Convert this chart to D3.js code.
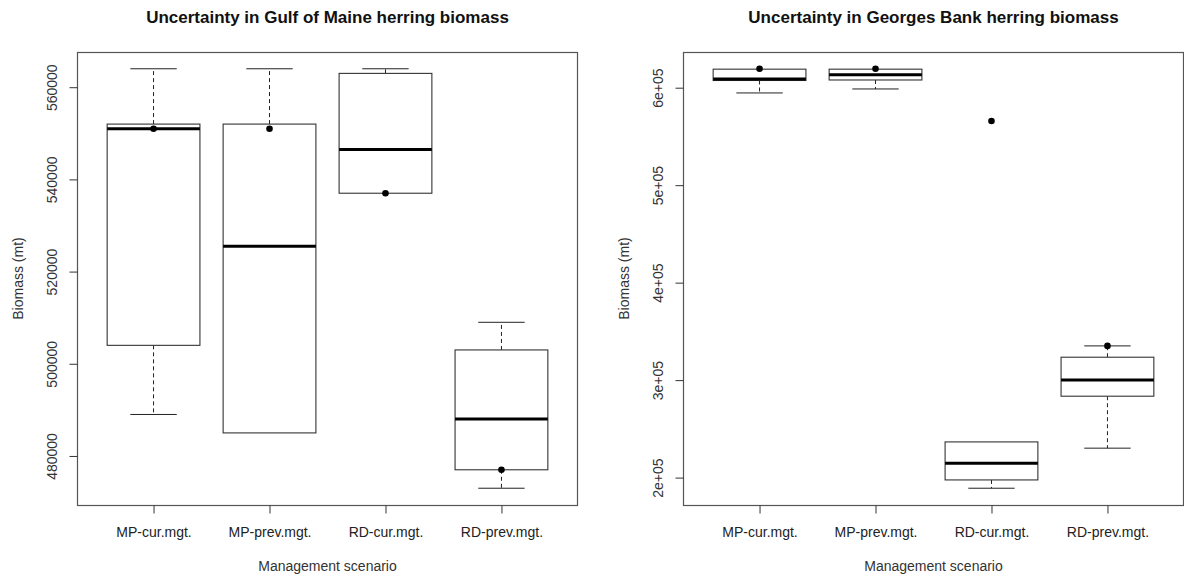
<!DOCTYPE html>
<html>
<head>
<meta charset="utf-8">
<script src="https://cdn.jsdelivr.net/npm/d3@7"></script>
<style>
  html, body { margin: 0; padding: 0; background: #fff; }
  svg { display: block; font-family: "Liberation Sans", Arial, sans-serif; }
</style>
</head>
<body>
<svg id="chart" width="1184" height="581"></svg>
<script>
// Management scenarios shown on both panels
const scenarios = ["MP-cur.mgt.", "MP-prev.mgt.", "RD-cur.mgt.", "RD-prev.mgt."];

// Gulf of Maine herring biomass (mt): box-plot summaries per scenario
const gomWhiskerLow  = [489000, 485000, 537000, 473000];
const gomQ1          = [504000, 485000, 537000, 477000];
const gomMedian      = [551000, 525500, 546500, 488000];
const gomQ3          = [552000, 552000, 563000, 503000];
const gomWhiskerHigh = [564000, 564000, 564000, 509000];
const gomPoints      = [551000, 551000, 537000, 477000];
const gomTicks       = [480000, 500000, 520000, 540000, 560000];
const gomTickLabels  = ["480000", "500000", "520000", "540000", "560000"];

// Georges Bank herring biomass (mt)
const gbWhiskerLow  = [594600, 598700, 189100, 230200];
const gbQ1          = [607400, 607900, 197600, 283500];
const gbMedian      = [608900, 613300, 214800, 300000];
const gbQ3          = [619000, 619000, 236600, 323500];
const gbWhiskerHigh = [619000, 619000, 236600, 335100];
const gbPoints      = [619400, 619400, 565800, 335100];
const gbTicks       = [200000, 300000, 400000, 500000, 600000];
const gbTickLabels  = ["2e+05", "3e+05", "4e+05", "5e+05", "6e+05"];

const svg = d3.select("#chart");

function drawPanel(cfg) {
  const { x0, x1, y0, y1, title, low, q1, med, q3, high, pts, ticks, tickLabels } = cfg;
  const g = svg.append("g");

  const boxes = scenarios.map((s, i) => ({
    s, low: low[i], q1: q1[i], med: med[i], q3: q3[i], high: high[i], pt: pts[i]
  }));

  // y range padded by 4% on each side of the data extent
  const all = [].concat(low, high, pts);
  const lo = d3.min(all), hi = d3.max(all), pad = (hi - lo) * 0.04;
  const y = d3.scaleLinear().domain([lo - pad, hi + pad]).range([y1, y0]);
  const x = d3.scalePoint().domain(scenarios).range([x0, x1]).padding(0.66);
  const bw = x.step() * 0.8;
  const cw = bw / 2;

  // frame
  g.append("rect")
    .attr("x", x0 + 0.5).attr("y", y0 + 0.5)
    .attr("width", x1 - x0 - 1).attr("height", y1 - y0)
    .attr("fill", "none").attr("stroke", "#555").attr("stroke-width", 1.2);

  // y axis with labels rotated parallel to the axis
  const yAxis = d3.axisLeft(y).tickValues(ticks)
    .tickFormat((d, i) => tickLabels[i]).tickSize(8).tickPadding(4);
  const ya = g.append("g").attr("transform", `translate(${x0 + 0.5},0)`).call(yAxis);
  ya.select(".domain").remove();
  ya.selectAll(".tick line").attr("stroke", "#333");
  ya.selectAll(".tick text")
    .attr("font-size", 14).attr("fill", "#333")
    .attr("transform", "rotate(-90)")
    .attr("x", 0).attr("dx", 0)
    .attr("y", -20.5).attr("dy", 0)
    .attr("text-anchor", "middle");

  const xAxis = d3.axisBottom(x).tickSize(8).tickPadding(0);
  const xa = g.append("g").attr("transform", `translate(0,${y1 + 0.5})`).call(xAxis);
  xa.select(".domain").remove();
  xa.selectAll(".tick line").attr("stroke", "#333");
  xa.selectAll(".tick text").attr("font-size", 14).attr("fill", "#222")
    .attr("y", 31).attr("dy", 0);

  // titles
  g.append("text").attr("x", (x0 + x1) / 2).attr("y", 23)
    .attr("text-anchor", "middle").attr("font-weight", "bold").attr("font-size", 17)
    .attr("fill", "#111").text(title);
  g.append("text").attr("x", (x0 + x1) / 2).attr("y", 571)
    .attr("text-anchor", "middle").attr("font-size", 14).attr("fill", "#333")
    .text("Management scenario");
  g.append("text")
    .attr("transform", `translate(${x0 - 54},${(y0 + y1) / 2}) rotate(-90)`)
    .attr("text-anchor", "middle").attr("font-size", 14).attr("fill", "#333")
    .text("Biomass (mt)");

  const b = g.selectAll("g.box").data(boxes).join("g").attr("class", "box");

  // dashed whiskers
  b.filter(d => d.high > d.q3).append("line")
    .attr("x1", d => x(d.s)).attr("x2", d => x(d.s))
    .attr("y1", d => y(d.q3)).attr("y2", d => y(d.high))
    .attr("stroke", "#222").attr("stroke-dasharray", "4,3");
  b.filter(d => d.low < d.q1).append("line")
    .attr("x1", d => x(d.s)).attr("x2", d => x(d.s))
    .attr("y1", d => y(d.q1)).attr("y2", d => y(d.low))
    .attr("stroke", "#222").attr("stroke-dasharray", "4,3");
  // whisker caps
  b.filter(d => d.high > d.q3).append("line")
    .attr("x1", d => x(d.s) - cw / 2).attr("x2", d => x(d.s) + cw / 2)
    .attr("y1", d => y(d.high)).attr("y2", d => y(d.high))
    .attr("stroke", "#222");
  b.filter(d => d.low < d.q1).append("line")
    .attr("x1", d => x(d.s) - cw / 2).attr("x2", d => x(d.s) + cw / 2)
    .attr("y1", d => y(d.low)).attr("y2", d => y(d.low))
    .attr("stroke", "#222");

  // boxes
  b.append("rect")
    .attr("x", d => x(d.s) - bw / 2).attr("width", bw)
    .attr("y", d => y(d.q3)).attr("height", d => y(d.q1) - y(d.q3))
    .attr("fill", "#fff").attr("stroke", "#333").attr("stroke-width", 1.1);

  // medians
  b.append("line")
    .attr("x1", d => x(d.s) - bw / 2).attr("x2", d => x(d.s) + bw / 2)
    .attr("y1", d => y(d.med)).attr("y2", d => y(d.med))
    .attr("stroke", "#000").attr("stroke-width", 3);

  // points
  b.append("circle")
    .attr("cx", d => x(d.s)).attr("cy", d => y(d.pt)).attr("r", 3.3)
    .attr("fill", "#000");
}

drawPanel({
  x0: 77, x1: 578, y0: 52, y1: 505,
  title: "Uncertainty in Gulf of Maine herring biomass",
  low: gomWhiskerLow, q1: gomQ1, med: gomMedian, q3: gomQ3, high: gomWhiskerHigh, pts: gomPoints,
  ticks: gomTicks, tickLabels: gomTickLabels
});
drawPanel({
  x0: 683, x1: 1184, y0: 52, y1: 505,
  title: "Uncertainty in Georges Bank herring biomass",
  low: gbWhiskerLow, q1: gbQ1, med: gbMedian, q3: gbQ3, high: gbWhiskerHigh, pts: gbPoints,
  ticks: gbTicks, tickLabels: gbTickLabels
});
</script>
</body>
</html>
